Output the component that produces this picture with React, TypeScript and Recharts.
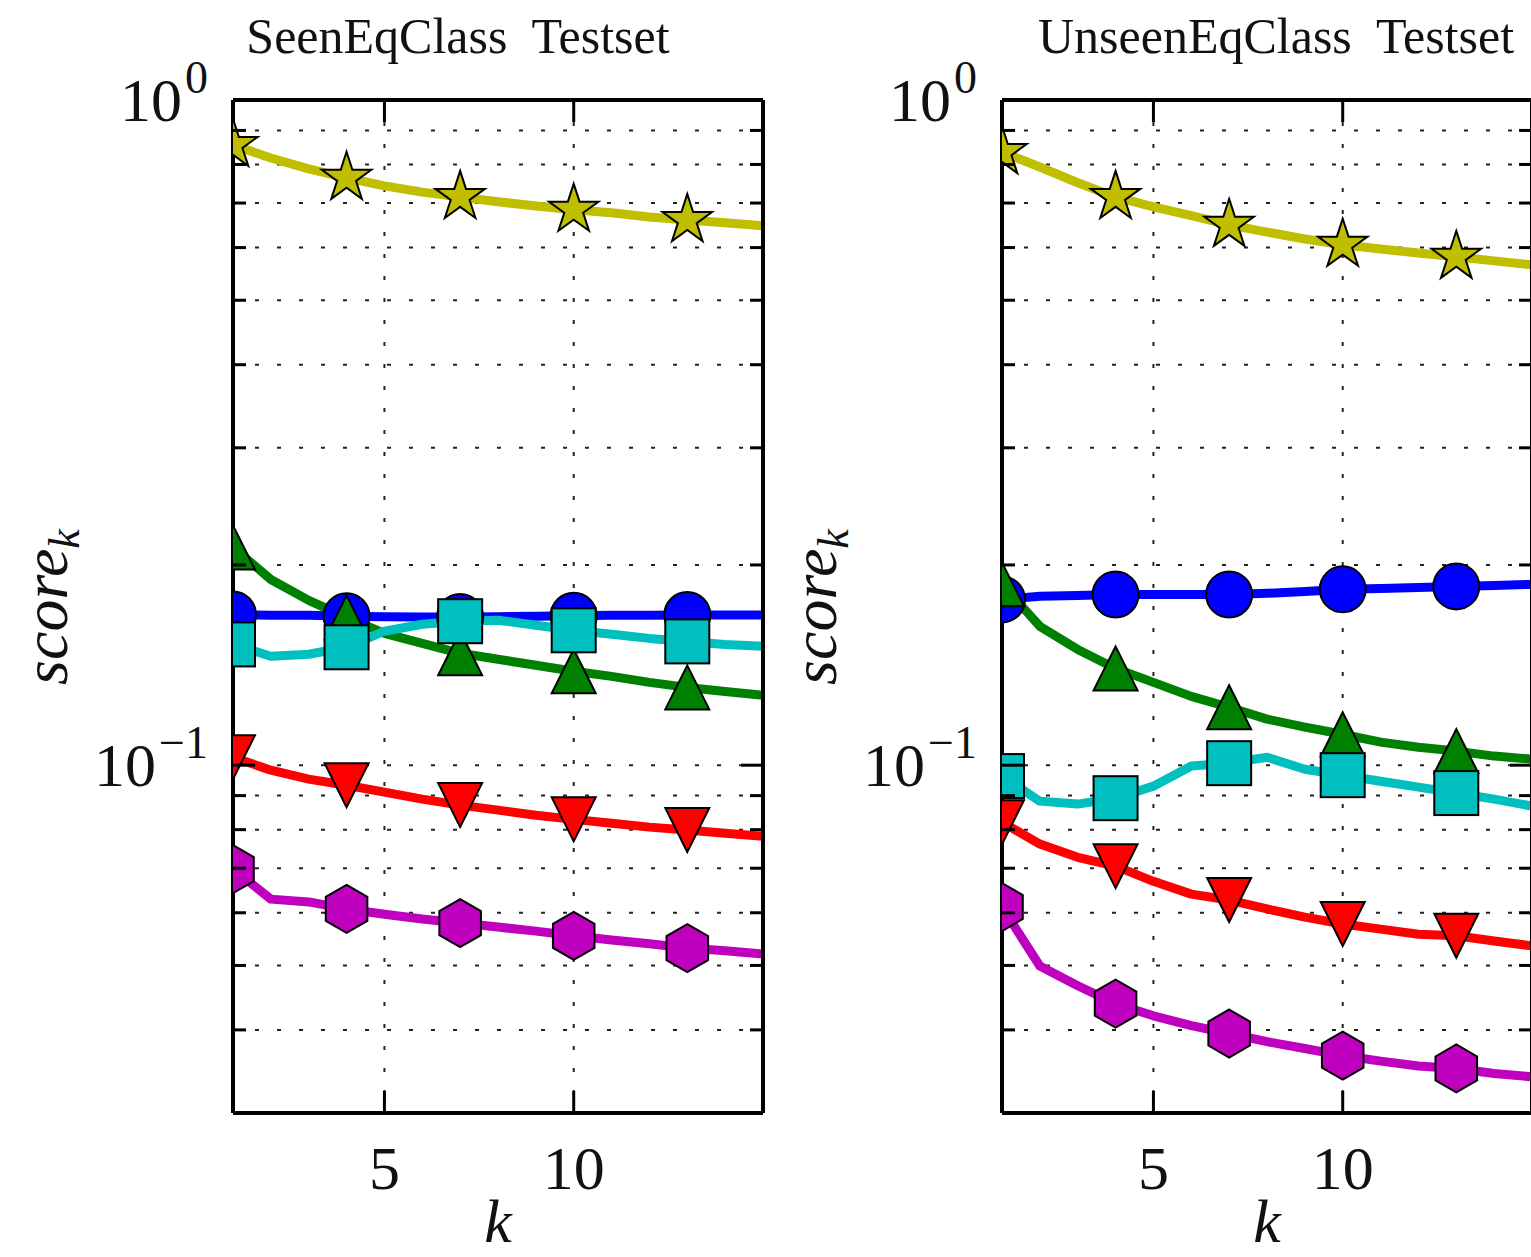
import React from 'react';
import { LineChart, Line, XAxis, YAxis, CartesianGrid } from 'recharts';

// k values on the x axis (markers every 3rd point)
const kValues = [1, 2, 3, 4, 5, 6, 7, 8, 9, 10, 11, 12, 13, 14, 15];
const xTicks = [5, 10];
const yTicks = [0.04, 0.05, 0.06, 0.07, 0.08, 0.09, 0.1, 0.2, 0.3, 0.4, 0.5, 0.6, 0.7, 0.8, 0.9, 1];
const yMajor: Record<number, string> = { 1: '0', 0.1: '\u22121' };

// SeenEqClass testset
const seenStar = [0.856, 0.818, 0.788, 0.764, 0.743, 0.727, 0.715, 0.703, 0.693, 0.684, 0.677, 0.667, 0.66, 0.654, 0.647];
const seenCircle = [0.1685, 0.168, 0.168, 0.1675, 0.1672, 0.167, 0.167, 0.1672, 0.1675, 0.1678, 0.168, 0.168, 0.1682, 0.1682, 0.1682];
const seenSquare = [0.1519, 0.1458, 0.1468, 0.1504, 0.159, 0.1629, 0.1646, 0.1652, 0.1623, 0.1595, 0.1573, 0.1551, 0.1535, 0.1519, 0.1509];
const seenTriUp = [0.2125, 0.1902, 0.1769, 0.1668, 0.1578, 0.1525, 0.1473, 0.1443, 0.1413, 0.1384, 0.136, 0.1332, 0.1309, 0.1291, 0.1274];
const seenTriDown = [0.1028, 0.0983, 0.0953, 0.0933, 0.0911, 0.0889, 0.0871, 0.0856, 0.0841, 0.0829, 0.0818, 0.0807, 0.0799, 0.079, 0.0782];
const seenHex = [0.0698, 0.0629, 0.0623, 0.0608, 0.0597, 0.0587, 0.0579, 0.0571, 0.0563, 0.0554, 0.0546, 0.0539, 0.0531, 0.0526, 0.052];

// UnseenEqClass testset
const unseenStar = [0.835, 0.793, 0.751, 0.715, 0.691, 0.67, 0.649, 0.633, 0.618, 0.606, 0.597, 0.589, 0.581, 0.573, 0.565];
const unseenCircle = [0.1775, 0.1794, 0.18, 0.1806, 0.1806, 0.1806, 0.1806, 0.1813, 0.1825, 0.1838, 0.1844, 0.185, 0.1857, 0.1863, 0.187];
const unseenSquare = [0.0963, 0.0883, 0.0874, 0.0892, 0.093, 0.0997, 0.1007, 0.1028, 0.0986, 0.0966, 0.0946, 0.0927, 0.0908, 0.0889, 0.0868];
const unseenTriUp = [0.187, 0.1617, 0.1493, 0.1398, 0.1332, 0.1269, 0.1222, 0.1173, 0.1141, 0.1113, 0.1083, 0.1064, 0.105, 0.1032, 0.1021];
const unseenTriDown = [0.0821, 0.0761, 0.0727, 0.0705, 0.0669, 0.064, 0.0627, 0.0608, 0.0591, 0.0577, 0.0567, 0.0557, 0.0554, 0.0544, 0.0535];
const unseenHex = [0.0612, 0.0499, 0.0466, 0.0438, 0.042, 0.0406, 0.0395, 0.0384, 0.0375, 0.0366, 0.0359, 0.0353, 0.035, 0.0344, 0.034];

type Marker = 'star' | 'circle' | 'square' | 'triUp' | 'triDown' | 'hex';

interface SeriesDef {
  key: Marker;
  color: string;
}

// draw order: later series sit on top
const seriesDefs: SeriesDef[] = [
  { key: 'star', color: '#bfbf00' },
  { key: 'circle', color: '#0000ff' },
  { key: 'triUp', color: '#008000' },
  { key: 'triDown', color: '#ff0000' },
  { key: 'hex', color: '#bf00bf' },
  { key: 'square', color: '#00bfbf' },
];

const buildRows = (s: Record<Marker, number[]>) =>
  kValues.map((k, i) => ({
    k,
    star: s.star[i],
    circle: s.circle[i],
    square: s.square[i],
    triUp: s.triUp[i],
    triDown: s.triDown[i],
    hex: s.hex[i],
  }));

const seenRows = buildRows({
  star: seenStar, circle: seenCircle, square: seenSquare,
  triUp: seenTriUp, triDown: seenTriDown, hex: seenHex,
});
const unseenRows = buildRows({
  star: unseenStar, circle: unseenCircle, square: unseenSquare,
  triUp: unseenTriUp, triDown: unseenTriDown, hex: unseenHex,
});

const FONT = '"Liberation Serif", "Times New Roman", serif';
const CHART_W = 790;
const CHART_H = 1257;
const PLOT_LEFT = 233;
const PLOT_RIGHT = 763;
const PLOT_TOP = 100;
const PLOT_BOTTOM = 1113;
const MAJOR_LEN = 22;
const MINOR_LEN = 13;

const polygon = (cx: number, cy: number, pts: [number, number][]) =>
  pts.map(([x, y]) => `${cx + x},${cy + y}`).join(' ');

const starPts = (r: number): [number, number][] =>
  Array.from({ length: 10 }, (_, i) => {
    const a = ((-90 + i * 36) * Math.PI) / 180;
    const rr = i % 2 === 0 ? r : r * 0.382;
    return [rr * Math.cos(a), rr * Math.sin(a)];
  });

const hexPts = (r: number): [number, number][] =>
  Array.from({ length: 6 }, (_, i) => {
    const a = ((-90 + i * 60) * Math.PI) / 180;
    return [r * Math.cos(a), r * Math.sin(a)];
  });

const renderDot = (def: SeriesDef) => (props: any) => {
  const { cx, cy, index } = props;
  const key = `${def.key}-${index}`;
  if (index % 3 !== 0 || cx == null || cy == null) return <g key={key} />;
  const common = { fill: def.color, stroke: '#000', strokeWidth: 2 };
  switch (def.key) {
    case 'circle':
      return <circle key={key} cx={cx} cy={cy} r={23} {...common} />;
    case 'square':
      return <rect key={key} x={cx - 22} y={cy - 22} width={44} height={44} {...common} />;
    case 'triUp':
      return <polygon key={key} points={polygon(cx, cy, [[0, -22], [-22, 22], [22, 22]])} {...common} />;
    case 'triDown':
      return <polygon key={key} points={polygon(cx, cy, [[0, 22], [-22, -22], [22, -22]])} {...common} />;
    case 'hex':
      return <polygon key={key} points={polygon(cx, cy, hexPts(24))} {...common} />;
    default:
      return <polygon key={key} points={polygon(cx, cy, starPts(26))} {...common} />;
  }
};

const LeftTick = (props: any) => {
  const { y, payload } = props;
  const exp = yMajor[payload.value];
  const len = exp ? MAJOR_LEN : MINOR_LEN;
  return (
    <g>
      <line x1={PLOT_LEFT} x2={PLOT_LEFT + len} y1={y} y2={y} stroke="#000" strokeWidth={3} />
      {exp && (
        <text x={PLOT_LEFT - 25} y={y + 21} textAnchor="end" fontFamily={FONT} fontSize={62} fill="#111">
          10
          <tspan dx={3} dy={-28} fontSize={46}>{exp}</tspan>
        </text>
      )}
    </g>
  );
};

const RightTick = (props: any) => {
  const { y, payload } = props;
  const len = yMajor[payload.value] ? MAJOR_LEN : MINOR_LEN;
  return <line x1={PLOT_RIGHT} x2={PLOT_RIGHT - len} y1={y} y2={y} stroke="#000" strokeWidth={3} />;
};

const BottomTick = (props: any) => {
  const { x, payload } = props;
  return (
    <g>
      <line x1={x} x2={x} y1={PLOT_BOTTOM} y2={PLOT_BOTTOM - MAJOR_LEN} stroke="#000" strokeWidth={3} />
      <text x={x} y={PLOT_BOTTOM + 76} textAnchor="middle" fontFamily={FONT} fontSize={62} fill="#111">
        {payload.value}
      </text>
    </g>
  );
};

const TopTick = (props: any) => {
  const { x } = props;
  return <line x1={x} x2={x} y1={PLOT_TOP} y2={PLOT_TOP + MAJOR_LEN} stroke="#000" strokeWidth={3} />;
};

interface PanelProps {
  left: number;
  title: string;
  titleX: number;
  data: ReturnType<typeof buildRows>;
}

const Panel: React.FC<PanelProps> = ({ left, title, titleX, data }) => (
  <div style={{ position: 'absolute', left, top: 0, width: CHART_W, height: CHART_H }}>
    <LineChart
      width={CHART_W}
      height={CHART_H}
      data={data}
      margin={{ top: PLOT_TOP - 1, right: CHART_W - PLOT_RIGHT - 1, bottom: 0, left: 0 }}
    >
      <CartesianGrid stroke="#222" strokeWidth={2} strokeDasharray="4 18" />
      <XAxis
        dataKey="k" type="number" domain={[1, 15]} ticks={xTicks} interval={0}
        allowDataOverflow height={CHART_H - PLOT_BOTTOM} tickLine={false} tick={<BottomTick />}
        axisLine={{ stroke: '#000', strokeWidth: 4 }}
      />
      <XAxis
        xAxisId="top" orientation="top" dataKey="k" type="number" domain={[1, 15]} ticks={xTicks}
        interval={0} allowDataOverflow height={1} tickLine={false} tick={<TopTick />}
        axisLine={{ stroke: '#000', strokeWidth: 4 }}
      />
      <YAxis
        scale="log" type="number" domain={[0.03, 1]} ticks={yTicks} interval={0}
        allowDataOverflow width={PLOT_LEFT} tickLine={false} tick={<LeftTick />}
        axisLine={{ stroke: '#000', strokeWidth: 4 }}
      />
      <YAxis
        yAxisId="right" orientation="right" scale="log" type="number" domain={[0.03, 1]} ticks={yTicks}
        interval={0} allowDataOverflow width={1} tickLine={false} tick={<RightTick />}
        axisLine={{ stroke: '#000', strokeWidth: 4 }}
      />
      <Line
        xAxisId="top" yAxisId="right" dataKey="star" stroke="none" dot={false}
        activeDot={false} isAnimationActive={false}
      />
      {seriesDefs.map((def) => (
        <Line
          key={def.key}
          type="linear"
          dataKey={def.key}
          stroke={def.color}
          strokeWidth={9}
          strokeLinejoin="round"
          dot={renderDot(def)}
          activeDot={false}
          isAnimationActive={false}
        />
      ))}
    </LineChart>
    <svg
      width={CHART_W}
      height={CHART_H}
      style={{ position: 'absolute', left: 0, top: 0, pointerEvents: 'none' }}
    >
      <text x={titleX} y={53} textAnchor="middle" fontFamily={FONT} fontSize={50} fill="#111" style={{ whiteSpace: 'pre' }}>
        {title}
      </text>
      <text
        transform="translate(67, 607) rotate(-90)"
        textAnchor="middle"
        fontFamily={FONT}
        fontStyle="italic"
        fontSize={64}
        fill="#111"
      >
        score
        <tspan dy={12} fontSize={44}>k</tspan>
      </text>
      <text x={(PLOT_LEFT + PLOT_RIGHT) / 2} y={1242} textAnchor="middle" fontFamily={FONT} fontStyle="italic" fontSize={62} fill="#111">
        k
      </text>
    </svg>
  </div>
);

export default function App() {
  return (
    <div
      style={{
        position: 'absolute', left: 0, top: 0, width: 1531, height: 1257,
        overflow: 'hidden', background: '#fff',
      }}
    >
      <Panel left={0} title={'SeenEqClass  Testset'} titleX={458} data={seenRows} />
      <Panel left={769} title={'UnseenEqClass  Testset'} titleX={507} data={unseenRows} />
    </div>
  );
}
